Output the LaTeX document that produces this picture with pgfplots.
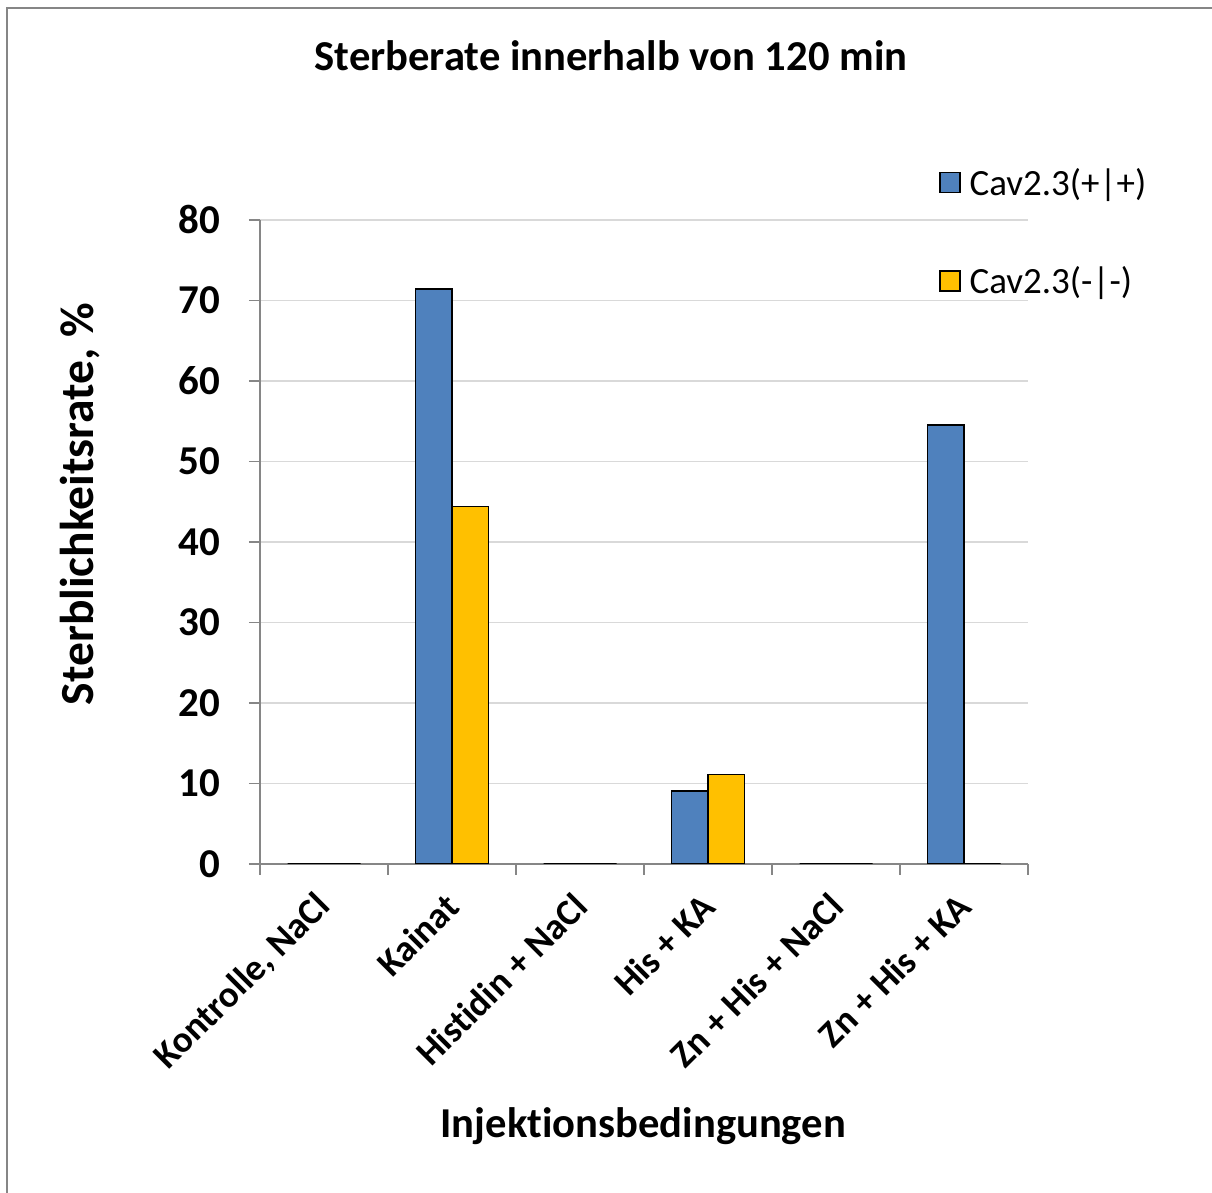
\documentclass[border=0pt]{standalone}
\usepackage{pgfplots}
\pgfplotsset{compat=1.18}
\usepackage{fontspec}
\setmainfont{Carlito}[Ligatures=NoCommon]

\definecolor{cavblue}{HTML}{4F81BD}
\definecolor{cavgold}{HTML}{FFC000}
\definecolor{axisgray}{HTML}{868686}
\definecolor{gridgray}{HTML}{D9D9D9}

\newcommand{\boldsize}{\bfseries\fontsize{41}{48}\selectfont}

\begin{document}
\begin{tikzpicture}
\useasboundingbox (0pt,0pt) rectangle (1212pt,1193pt);
% chart area frame (left and top edge)
\draw[axisgray, line width=2pt] (7pt,0pt) -- (7pt,1185pt) -- (1212pt,1185pt);
\begin{axis}[
  at={(260pt,329pt)}, anchor=south west,
  scale only axis, width=768pt, height=644pt,
  xmin=-0.5, xmax=5.5, ymin=0, ymax=80,
  ybar=0pt, bar width=36.5pt,
  axis x line*=bottom, axis y line*=left,
  axis line style={axisgray, line width=1.5pt},
  ytick={0,10,...,80},
  ymajorgrids, grid style={gridgray, line width=1.5pt},
  tick style={axisgray, line width=1.5pt},
  tick align=outside, major tick length=11pt,
  xtick={-0.5,0.5,...,5.5}, xticklabels={},
  extra x ticks={0,1,2,3,4,5},
  extra x tick labels={{Kontrolle, NaCl},{Kainat},{Histidin + NaCl},{His + KA},{Zn + His + NaCl},{Zn + His + KA}},
  extra x tick style={major tick length=0pt, xticklabel style={xshift=3pt, yshift=-34pt,
    rotate=45, anchor=east, font=\bfseries\fontsize{37}{44}\selectfont}},
  /pgf/number format/assume math mode=true,
  yticklabel style={font=\boldsize, xshift=-25pt},
  title={Sterberate innerhalb von 120 min},
  title style={at={(axis description cs:0.457,1.2454)}, anchor=center, font=\bfseries\fontsize{42.6}{48}\selectfont},
  xlabel={Injektionsbedingungen},
  xlabel style={at={(axis description cs:0.499,-0.4068)}, anchor=center, font=\bfseries\fontsize{42.6}{48}\selectfont},
  ylabel={Sterblichkeitsrate, \%},
  ylabel style={at={(axis description cs:-0.234,0.559)}, anchor=center, font=\bfseries\fontsize{47.5}{54}\selectfont},
  legend style={draw=none, fill=none, at={(axis description cs:0.880,1.087)}, anchor=north west,
    font=\fontsize{37}{44}\selectfont, row sep=66pt, legend cell align=left},
  legend image code/.code={\draw[#1, line width=1.5pt] (0pt,-10pt) rectangle (20pt,10pt); \path (27pt,0pt);},
]
\addplot[fill=cavblue, draw=black, line width=1.5pt] coordinates {
  (0,0) (1,71.43) (2,0) (3,9.09) (4,0) (5,54.55)};
\addplot[fill=cavgold, draw=black, line width=1.5pt] coordinates {
  (0,0) (1,44.44) (2,0) (3,11.11) (4,0) (5,0)};
\legend{Cav2.3(+|+), Cav2.3(-|-)}
\end{axis}
\end{tikzpicture}
\end{document}
